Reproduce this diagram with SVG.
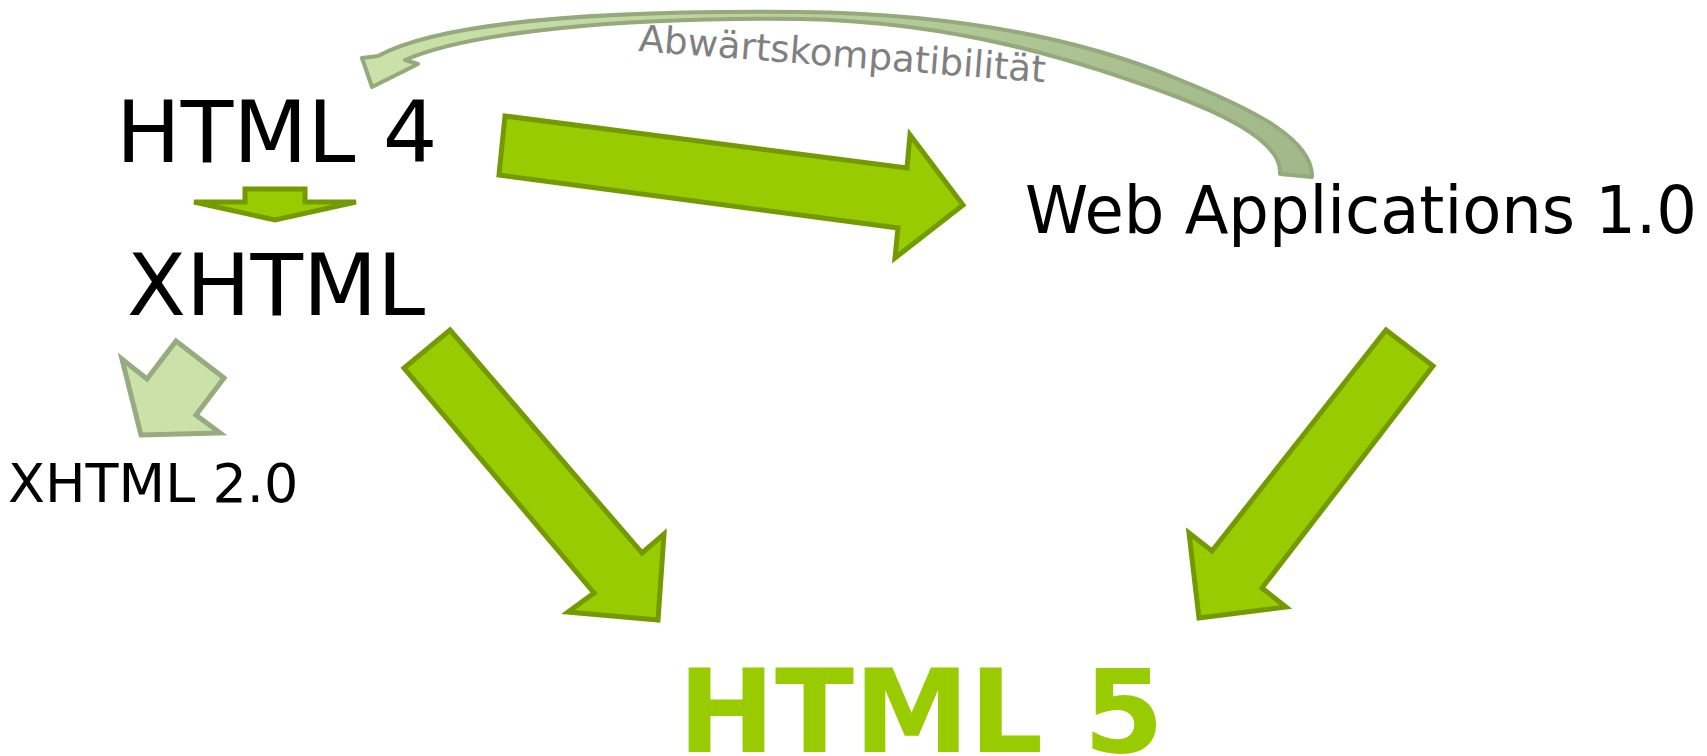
<svg xmlns="http://www.w3.org/2000/svg" width="1707" height="756" viewBox="0 0 1707 756">
  <style>
    .label { font-family: "DejaVu Sans", "Liberation Sans", sans-serif; fill: #000000; }
    .main { font-family: "DejaVu Sans", "Liberation Sans", sans-serif; font-weight: bold; fill: #99cc00; }
    .note { font-family: "DejaVu Sans", "Liberation Sans", sans-serif; fill: #808080; }
    .big { fill: #99cc00; stroke: #739a00; stroke-width: 5; stroke-linejoin: miter; }
    .pale { fill: #cce1aa; stroke: #96ab80; stroke-width: 5; stroke-linejoin: miter; }
    .compat { fill: url(#compatFill); stroke: #94a97c; stroke-width: 4; stroke-linejoin: round; }
  </style>
  <defs>
    <linearGradient id="compatFill" gradientUnits="userSpaceOnUse" x1="360" y1="60" x2="1310" y2="170">
      <stop offset="0" stop-color="#cde2aa"/>
      <stop offset="1" stop-color="#a2b78a"/>
    </linearGradient>
  </defs>

  <rect width="1707" height="756" fill="#ffffff"/>

  <!-- connectors -->
  <g id="connectors">
    <!-- HTML 4 to Web Applications 1.0 -->
    <polygon class="big" points="505,116 907,168 910,135 963,205 895,258 898,228 499,175"/>
    <!-- HTML 4 to XHTML -->
    <polygon class="big" points="245,189 305,189 305,202 356,202 275,220 194,202 245,202"/>
    <!-- XHTML to HTML 5 -->
    <polygon class="big" points="450,330 642,553 664,534 658,620 568,612 594,593 404,368"/>
    <!-- Web Applications 1.0 to HTML 5 -->
    <polygon class="big" points="1386,330 1433,366 1262,588 1286,607 1199,618 1189,533 1212,551"/>
    <!-- XHTML to XHTML 2.0 -->
    <polygon class="pale" points="141,435 220,433 196,415 224,378 176,341 147,379 122,359"/>
    <!-- backward compatibility: Web Applications 1.0 back to HTML 4 -->
    <path class="compat" d="M378,56 C440,22 600,10 800,12 C970,14 1090,42 1180,80 C1255,110 1313,140 1312,177 L1280,174 C1282,148 1245,122 1172,95 C1085,64 965,22 800,19 C620,17 470,32 405,60 L418,64 L372,87 L362,58 Z"/>
    <text class="note" x="638" y="51" font-size="37" textLength="408" lengthAdjust="spacingAndGlyphs" transform="rotate(4.4 638 51)">Abwärtskompatibilität</text>
  </g>

  <!-- nodes -->
  <g id="html4">
    <text class="label" x="116" y="162" font-size="86">HTML 4</text>
  </g>
  <g id="xhtml">
    <text class="label" x="127" y="315" font-size="86">XHTML</text>
  </g>
  <g id="xhtml2">
    <text class="label" x="8" y="502" font-size="54">XHTML 2.0</text>
  </g>
  <g id="webapps">
    <text class="label" x="1025" y="233" font-size="66" textLength="672" lengthAdjust="spacingAndGlyphs">Web Applications 1.0</text>
  </g>
  <g id="html5">
    <text class="main" x="678" y="752" font-size="116" textLength="486" lengthAdjust="spacingAndGlyphs">HTML 5</text>
  </g>
</svg>
